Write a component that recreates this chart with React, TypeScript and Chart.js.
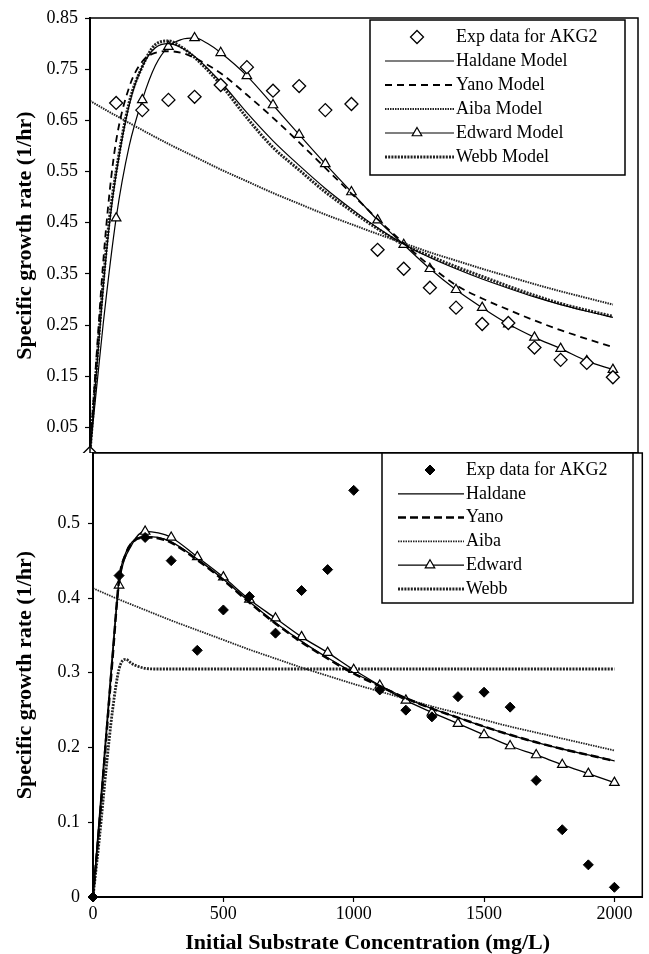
import React, { useEffect, useRef } from 'react';
import { Chart, registerables } from 'chart.js';

Chart.register(...registerables);

const SERIF = "'Liberation Serif', 'Times New Roman', Times, serif";

// ---------------- Top panel (AKG2, "Model" fits) ----------------
const TOP_EXP_X = [0, 100, 200, 300, 400, 500, 600, 700, 800, 900, 1000, 1100, 1200, 1300, 1400, 1500, 1600, 1700, 1800, 1900, 2000];
const TOP_EXP_Y = [0, 0.684, 0.670, 0.690, 0.696, 0.719, 0.754, 0.708, 0.717, 0.670, 0.682, 0.397, 0.360, 0.323, 0.284, 0.252, 0.254, 0.206, 0.182, 0.176, 0.148];

const TOP_MODEL_X = [0, 25, 50, 75, 100, 150, 200, 250, 300, 350, 400, 500, 600, 700, 800, 900, 1000, 1100, 1200, 1300, 1400, 1500, 1600, 1700, 1800, 1900, 2000];
const TOP_HALDANE = [0, 0.16, 0.32, 0.45, 0.545, 0.68, 0.755, 0.792, 0.8, 0.792, 0.775, 0.725, 0.665, 0.61, 0.562, 0.517, 0.477, 0.44, 0.408, 0.382, 0.36, 0.34, 0.322, 0.305, 0.29, 0.277, 0.265];
const TOP_YANO = [0, 0.19, 0.37, 0.51, 0.61, 0.715, 0.765, 0.782, 0.785, 0.782, 0.772, 0.742, 0.7, 0.655, 0.607, 0.557, 0.507, 0.457, 0.41, 0.366, 0.328, 0.302, 0.28, 0.259, 0.24, 0.223, 0.207];
const TOP_WEBB = [0, 0.17, 0.33, 0.46, 0.55, 0.685, 0.755, 0.798, 0.805, 0.793, 0.773, 0.72, 0.655, 0.597, 0.553, 0.51, 0.473, 0.438, 0.407, 0.385, 0.364, 0.345, 0.326, 0.308, 0.292, 0.279, 0.267];

const TOP_AIBA_X = [0, 100, 200, 300, 400, 500, 600, 700, 800, 900, 1000, 1100, 1200, 1300, 1400, 1500, 1600, 1700, 1800, 1900, 2000];
const TOP_AIBA = [0.688, 0.659, 0.631, 0.604, 0.579, 0.554, 0.531, 0.508, 0.487, 0.466, 0.447, 0.428, 0.41, 0.392, 0.376, 0.36, 0.345, 0.33, 0.316, 0.303, 0.29];

const TOP_EDWARD_X = [0, 50, 100, 150, 200, 250, 300, 350, 400, 450, 500, 600, 700, 800, 900, 1000, 1100, 1200, 1300, 1400, 1500, 1600, 1700, 1800, 1900, 2000];
const TOP_EDWARD = [0, 0.25, 0.459, 0.6, 0.69, 0.757, 0.794, 0.808, 0.811, 0.8, 0.782, 0.737, 0.68, 0.622, 0.565, 0.51, 0.455, 0.407, 0.36, 0.319, 0.284, 0.252, 0.226, 0.204, 0.18, 0.163];

const TOP_Y_TICKS = [0.05, 0.15, 0.25, 0.35, 0.45, 0.55, 0.65, 0.75, 0.85];
const TOP_LABELS = ['Exp data for AKG2', 'Haldane Model', 'Yano Model', 'Aiba Model', 'Edward Model', 'Webb Model'];

// ---------------- Bottom panel ----------------
const BOT_EXP_X = [0, 100, 200, 300, 400, 500, 600, 700, 800, 900, 1000, 1100, 1200, 1300, 1400, 1500, 1600, 1700, 1800, 1900, 2000];
const BOT_EXP_Y = [0, 0.43, 0.481, 0.45, 0.33, 0.384, 0.402, 0.353, 0.41, 0.438, 0.544, 0.277, 0.25, 0.241, 0.268, 0.274, 0.254, 0.156, 0.09, 0.043, 0.013];

const BOT_MODEL_X = [0, 25, 50, 75, 100, 125, 150, 200, 250, 300, 400, 500, 600, 700, 800, 900, 1000, 1100, 1200, 1300, 1400, 1500, 1600, 1700, 1800, 1900, 2000];
const BOT_HALDANE = [0, 0.1, 0.21, 0.32, 0.425, 0.46, 0.475, 0.482, 0.481, 0.475, 0.452, 0.425, 0.395, 0.367, 0.342, 0.32, 0.3, 0.283, 0.266, 0.252, 0.24, 0.228, 0.217, 0.207, 0.198, 0.19, 0.182];
const BOT_YANO = [0, 0.1, 0.21, 0.32, 0.424, 0.458, 0.474, 0.481, 0.48, 0.474, 0.451, 0.424, 0.394, 0.366, 0.341, 0.319, 0.299, 0.282, 0.266, 0.252, 0.24, 0.228, 0.217, 0.207, 0.198, 0.19, 0.182];
const BOT_WEBB = [0, 0.08, 0.17, 0.25, 0.305, 0.318, 0.312, 0.306, 0.305, 0.305, 0.305, 0.305, 0.305, 0.305, 0.305, 0.305, 0.305, 0.305, 0.305, 0.305, 0.305, 0.305, 0.305, 0.305, 0.305, 0.305, 0.305];

const BOT_AIBA_X = [0, 100, 200, 300, 400, 500, 600, 700, 800, 900, 1000, 1100, 1200, 1300, 1400, 1500, 1600, 1700, 1800, 1900, 2000];
const BOT_AIBA = [0.413, 0.398, 0.384, 0.37, 0.357, 0.344, 0.331, 0.319, 0.307, 0.296, 0.285, 0.275, 0.265, 0.255, 0.246, 0.237, 0.228, 0.22, 0.212, 0.204, 0.196];

const BOT_EDWARD_X = [0, 50, 100, 150, 200, 250, 300, 400, 500, 600, 700, 800, 900, 1000, 1100, 1200, 1300, 1400, 1500, 1600, 1700, 1800, 1900, 2000];
const BOT_EDWARD = [0, 0.22, 0.417, 0.472, 0.489, 0.487, 0.481, 0.455, 0.428, 0.398, 0.373, 0.348, 0.327, 0.304, 0.283, 0.263, 0.247, 0.232, 0.217, 0.202, 0.19, 0.177, 0.165, 0.153];

const BOT_Y_TICKS = [0, 0.1, 0.2, 0.3, 0.4, 0.5];
const BOT_X_TICKS = [0, 500, 1000, 1500, 2000];
const BOT_LABELS = ['Exp data for AKG2', 'Haldane', 'Yano', 'Aiba', 'Edward', 'Webb'];

const Y_TITLE = 'Specific growth rate (1/hr)';
const X_TITLE = 'Initial Substrate Concentration (mg/L)';

type Pt = { x: number; y: number };
const zip = (xs: number[], ys: number[]): Pt[] => xs.map((x, i) => ({ x, y: ys[i] }));

function markerPath(ctx: CanvasRenderingContext2D, style: string, x: number, y: number, r: number) {
  ctx.beginPath();
  if (style === 'triangle') {
    ctx.moveTo(x, y - r);
    ctx.lineTo(x + 0.866 * r, y + 0.5 * r);
    ctx.lineTo(x - 0.866 * r, y + 0.5 * r);
  } else {
    ctx.moveTo(x, y - r);
    ctx.lineTo(x + r, y);
    ctx.lineTo(x, y + r);
    ctx.lineTo(x - r, y);
  }
  ctx.closePath();
}

const panelPlugin = {
  id: 'panel',
  beforeDraw(chart: any, _a: any, opts: any) {
    const { ctx, chartArea, width, height } = chart;
    ctx.save();
    ctx.fillStyle = '#ffffff';
    const top = opts.fillFromArea ? chartArea.top : 0;
    ctx.fillRect(0, top, width, height - top);
    ctx.restore();
  },
  afterDraw(chart: any, _a: any, opts: any) {
    const { ctx, chartArea: a } = chart;
    ctx.save();
    ctx.strokeStyle = '#000';
    ctx.lineWidth = 1.5;
    ctx.setLineDash([]);
    ctx.strokeRect(a.left, a.top, a.right - a.left, a.bottom - a.top);
    const lg = opts.legend;
    if (lg) {
      ctx.fillStyle = '#fff';
      ctx.fillRect(lg.x, lg.y, lg.w, lg.h);
      ctx.lineWidth = 1.5;
      ctx.strokeStyle = '#000';
      ctx.strokeRect(lg.x, lg.y, lg.w, lg.h);
      chart.data.datasets.forEach((ds: any, i: number) => {
        const cy = lg.rowY0 + i * lg.rowGap;
        if (ds.showLine !== false) {
          ctx.save();
          ctx.strokeStyle = ds.borderColor;
          ctx.lineWidth = ds.borderWidth;
          ctx.setLineDash(ds.borderDash || []);
          ctx.beginPath();
          ctx.moveTo(lg.lineX0, cy);
          ctx.lineTo(lg.lineX1, cy);
          ctx.stroke();
          ctx.restore();
        }
        if (ds.legendRadius) {
          ctx.save();
          ctx.setLineDash([]);
          markerPath(ctx, ds.pointStyle, lg.markerX, cy, ds.legendRadius);
          ctx.fillStyle = ds.pointBackgroundColor;
          ctx.fill();
          ctx.lineWidth = ds.pointBorderWidth;
          ctx.strokeStyle = ds.pointBorderColor;
          ctx.stroke();
          ctx.restore();
        }
        ctx.fillStyle = '#000';
        ctx.font = `18px ${SERIF}`;
        ctx.textBaseline = 'middle';
        ctx.textAlign = 'left';
        ctx.fillText(ds.label, lg.textX, cy);
      });
    }
    ctx.restore();
  },
};

const tickFont = { family: SERIF, size: 18 };
const titleFont = { family: SERIF, size: 22, weight: 'bold' as const };

function yAxis(min: number, max: number, ticks: number[], width: number, pad: number, fmt: (v: number) => string) {
  return {
    type: 'linear' as const,
    min,
    max,
    afterBuildTicks: (s: any) => {
      s.ticks = ticks.map((v) => ({ value: v }));
    },
    afterFit: (s: any) => {
      s.width = width;
      s.paddingTop = 0;
      s.paddingBottom = 0;
    },
    ticks: { font: tickFont, color: '#000', padding: pad, callback: (v: any) => fmt(Number(v)) },
    grid: { drawOnChartArea: false, drawTicks: true, tickLength: 5, color: '#000', tickWidth: 1.2 },
    border: { display: true, color: '#000', width: 2 },
    title: { display: true, text: Y_TITLE, font: titleFont, color: '#000', padding: { top: 12, bottom: 0 } },
  };
}

const edwardRadius = (c: any) => {
  const r = c.raw;
  return r && r.x > 0 && r.x % 100 === 0 ? 5.5 : 0;
};

function topConfig(): any {
  return {
    type: 'line',
    data: {
      datasets: [
        { label: TOP_LABELS[0], data: zip(TOP_EXP_X, TOP_EXP_Y), showLine: false, pointStyle: 'rectRot', pointRadius: 6.5, pointBackgroundColor: '#fff', pointBorderColor: '#000', pointBorderWidth: 1.3, borderColor: '#000', clip: false, legendRadius: 6.5 },
        { label: TOP_LABELS[1], data: zip(TOP_MODEL_X, TOP_HALDANE), borderColor: '#000', borderWidth: 1.2, pointRadius: 0, cubicInterpolationMode: 'monotone' },
        { label: TOP_LABELS[2], data: zip(TOP_MODEL_X, TOP_YANO), borderColor: '#000', borderWidth: 1.8, borderDash: [7, 5], pointRadius: 0, cubicInterpolationMode: 'monotone' },
        { label: TOP_LABELS[3], data: zip(TOP_AIBA_X, TOP_AIBA), borderColor: '#222', borderWidth: 2, borderDash: [1.5, 1], pointRadius: 0, cubicInterpolationMode: 'monotone' },
        { label: TOP_LABELS[4], data: zip(TOP_EDWARD_X, TOP_EDWARD), borderColor: '#000', borderWidth: 1.2, pointStyle: 'triangle', pointRadius: edwardRadius, pointBackgroundColor: '#fff', pointBorderColor: '#000', pointBorderWidth: 1.2, cubicInterpolationMode: 'monotone', legendRadius: 5.5 },
        { label: TOP_LABELS[5], data: zip(TOP_MODEL_X, TOP_WEBB), borderColor: '#222', borderWidth: 3, borderDash: [2, 1.2], pointRadius: 0, cubicInterpolationMode: 'monotone' },
      ],
    },
    options: {
      animation: false,
      responsive: false,
      events: [],
      layout: { padding: { left: 0, right: 11, top: 18, bottom: 17 } },
      scales: {
        x: {
          type: 'linear',
          min: 0,
          max: 2096,
          afterFit: (s: any) => {
            s.height = 0;
            s.paddingLeft = 0;
            s.paddingRight = 0;
          },
          ticks: { display: false },
          grid: { drawOnChartArea: false, drawTicks: false, color: '#000' },
          border: { display: true, color: '#000', width: 2 },
        },
        y: yAxis(0, 0.85, TOP_Y_TICKS, 90, 7, (v) => v.toFixed(2)),
      },
      plugins: {
        legend: { display: false },
        tooltip: { enabled: false },
        panel: {
          fillFromArea: false,
          legend: { x: 370, y: 20, w: 255, h: 155, rowY0: 37, rowGap: 24, lineX0: 385, lineX1: 454, markerX: 417, textX: 456 },
        },
      },
    },
    plugins: [panelPlugin],
  };
}

function bottomConfig(): any {
  return {
    type: 'line',
    data: {
      datasets: [
        { label: BOT_LABELS[0], data: zip(BOT_EXP_X, BOT_EXP_Y), showLine: false, pointStyle: 'rectRot', pointRadius: 5, pointBackgroundColor: '#000', pointBorderColor: '#000', pointBorderWidth: 1, borderColor: '#000', clip: false, legendRadius: 5 },
        { label: BOT_LABELS[1], data: zip(BOT_MODEL_X, BOT_HALDANE), borderColor: '#000', borderWidth: 1.3, pointRadius: 0, cubicInterpolationMode: 'monotone' },
        { label: BOT_LABELS[2], data: zip(BOT_MODEL_X, BOT_YANO), borderColor: '#000', borderWidth: 2.5, borderDash: [8, 4], pointRadius: 0, cubicInterpolationMode: 'monotone' },
        { label: BOT_LABELS[3], data: zip(BOT_AIBA_X, BOT_AIBA), borderColor: '#222', borderWidth: 1.8, borderDash: [1.5, 1], pointRadius: 0, cubicInterpolationMode: 'monotone' },
        { label: BOT_LABELS[4], data: zip(BOT_EDWARD_X, BOT_EDWARD), borderColor: '#000', borderWidth: 1.3, pointStyle: 'triangle', pointRadius: edwardRadius, pointBackgroundColor: '#fff', pointBorderColor: '#000', pointBorderWidth: 1.2, cubicInterpolationMode: 'monotone', legendRadius: 5.5 },
        { label: BOT_LABELS[5], data: zip(BOT_MODEL_X, BOT_WEBB), borderColor: '#222', borderWidth: 2.8, borderDash: [2, 1.2], pointRadius: 0, cubicInterpolationMode: 'monotone' },
      ],
    },
    options: {
      animation: false,
      responsive: false,
      events: [],
      layout: { padding: { left: 0, right: 6, top: 13, bottom: 0 } },
      scales: {
        x: {
          type: 'linear',
          min: 0,
          max: 2107,
          afterBuildTicks: (s: any) => {
            s.ticks = BOT_X_TICKS.map((v) => ({ value: v }));
          },
          afterFit: (s: any) => {
            s.height = 57;
            s.paddingLeft = 0;
            s.paddingRight = 0;
          },
          ticks: { font: tickFont, color: '#000', padding: 1, maxRotation: 0, autoSkip: false, callback: (v: any) => String(v) },
          grid: { drawOnChartArea: false, drawTicks: true, tickLength: 5, color: '#000', tickWidth: 1.2 },
          border: { display: true, color: '#000', width: 2 },
          title: { display: true, text: X_TITLE, font: titleFont, color: '#000', padding: { top: 0, bottom: -3 } },
        },
        y: yAxis(0, 0.594, BOT_Y_TICKS, 93, 8, (v) => (v === 0 ? '0' : v.toFixed(1))),
      },
      plugins: {
        legend: { display: false },
        tooltip: { enabled: false },
        panel: {
          fillFromArea: true,
          legend: { x: 382, y: 13, w: 251, h: 150, rowY0: 30, rowGap: 23.8, lineX0: 398, lineX1: 464, markerX: 430, textX: 466 },
        },
      },
    },
    plugins: [panelPlugin],
  };
}

export default function App() {
  const topRef = useRef<HTMLCanvasElement | null>(null);
  const botRef = useRef<HTMLCanvasElement | null>(null);

  useEffect(() => {
    const charts: Chart[] = [];
    if (topRef.current) charts.push(new Chart(topRef.current, topConfig()));
    if (botRef.current) charts.push(new Chart(botRef.current, bottomConfig()));
    return () => charts.forEach((c) => c.destroy());
  }, []);

  return (
    <div style={{ position: 'absolute', left: 0, top: 0, width: 649, height: 954, overflow: 'hidden', background: '#fff' }}>
      <canvas ref={topRef} width={649} height={470} style={{ position: 'absolute', left: 0, top: 0, width: 649, height: 470 }} />
      <canvas ref={botRef} width={649} height={514} style={{ position: 'absolute', left: 0, top: 440, width: 649, height: 514 }} />
    </div>
  );
}
